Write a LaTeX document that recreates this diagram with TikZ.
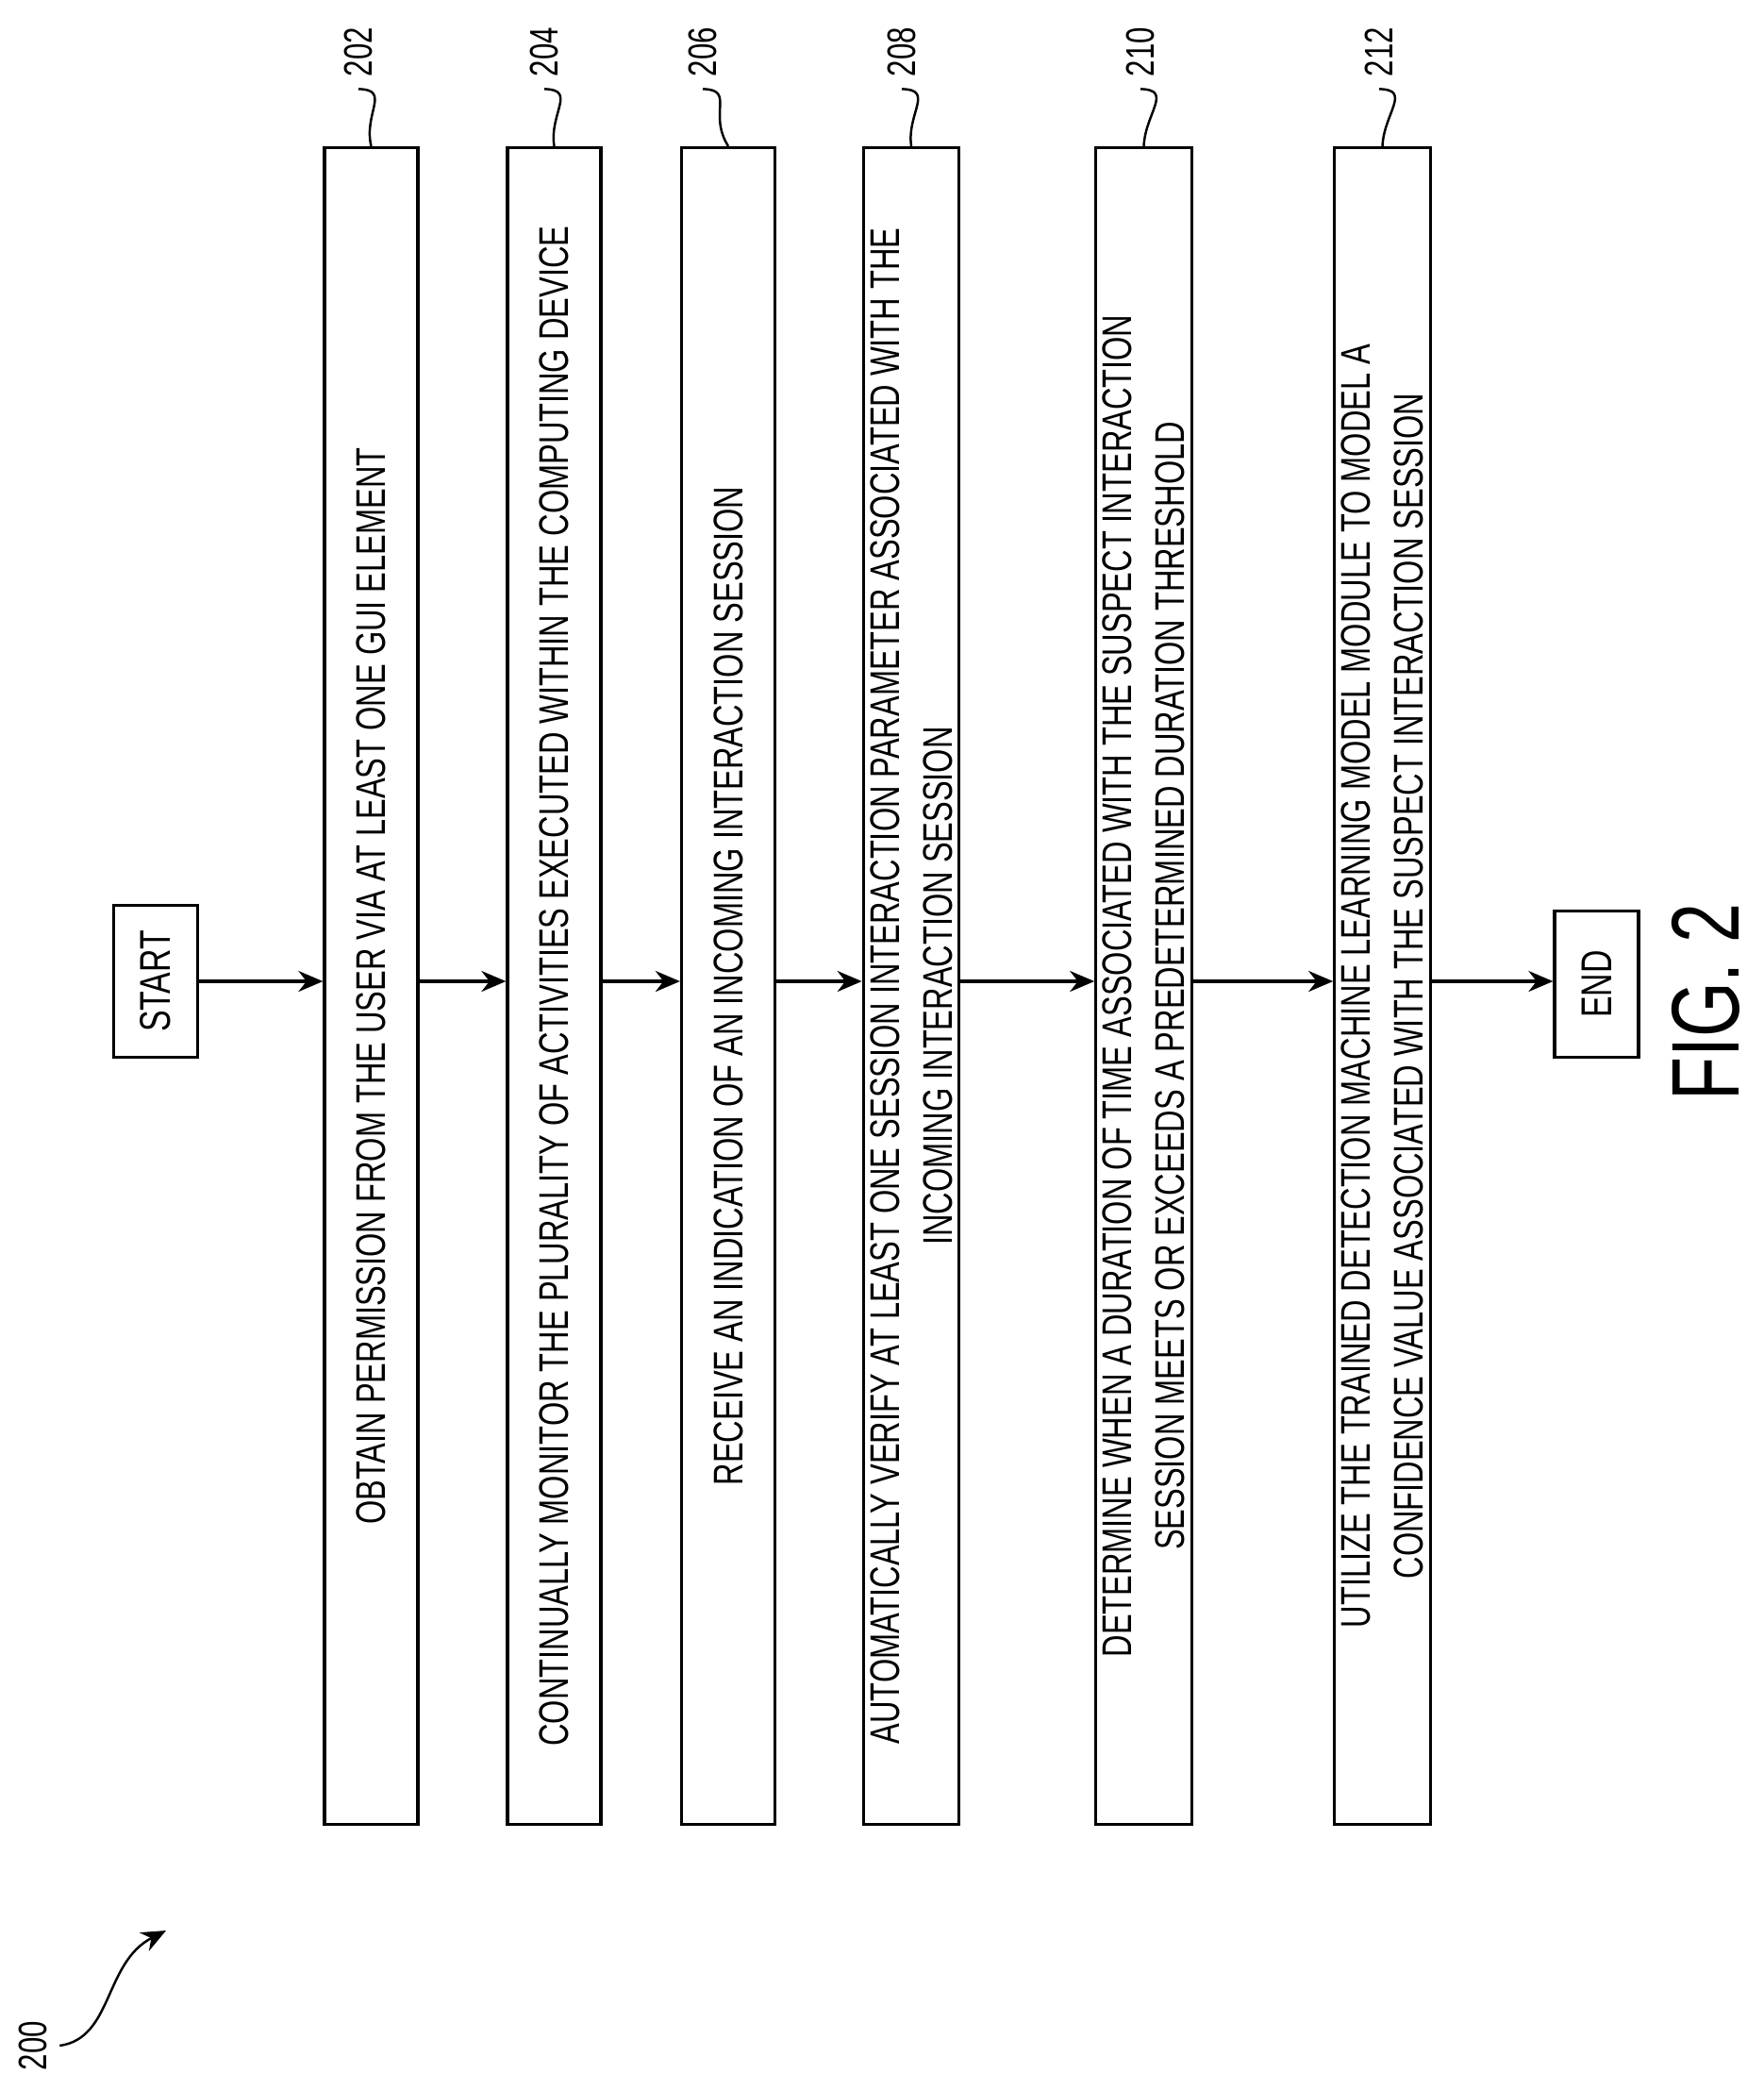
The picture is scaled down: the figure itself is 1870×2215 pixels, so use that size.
\documentclass[tikz,border=0pt]{standalone}
\usepackage{fontspec}
\setmainfont[FakeStretch=0.74]{Liberation Sans}
\usetikzlibrary{arrows.meta}

\begin{document}
\begin{tikzpicture}[x=0.01cm, y=-0.01cm, >={Stealth[length=2.6mm,width=2.2mm]}, line width=0.9pt]
    \tikzset{stepbox/.style={draw, rotate=90, minimum width=17.76cm, minimum height=0.99cm, align=center, inner sep=2pt, font=\fontsize{12.5}{16}\selectfont},
             termbox/.style={draw, rotate=90, minimum height=0.89cm, font=\fontsize{13}{16}\selectfont},
             reflbl/.style={rotate=90, font=\fontsize{12}{14}\selectfont}}
    \useasboundingbox (0,0) rectangle (1870,2215);

        % Boxes
        \node[termbox, minimum width=1.61cm] (start) at (165,1040) {START};
        \node[stepbox] (b202) at (393.5,1045) {OBTAIN PERMISSION FROM THE USER VIA AT LEAST ONE GUI ELEMENT};
        \node[stepbox] (b204) at (587.5,1045) {CONTINUALLY MONITOR THE PLURALITY OF ACTIVITIES EXECUTED WITHIN THE COMPUTING DEVICE};
        \node[stepbox] (b206) at (772,1045) {RECEIVE AN INDICATION OF AN INCOMING INTERACTION SESSION};
        \node[stepbox] (b208) at (966,1045) {AUTOMATICALLY VERIFY AT LEAST ONE SESSION INTERACTION PARAMETER ASSOCIATED WITH THE\\INCOMING INTERACTION SESSION};
        \node[stepbox] (b210) at (1212.5,1045) {DETERMINE WHEN A DURATION OF TIME ASSOCIATED WITH THE SUSPECT INTERACTION\\SESSION MEETS OR EXCEEDS A PREDETERMINED DURATION THRESHOLD};
        \node[stepbox] (b212) at (1465.5,1045) {UTILIZE THE TRAINED DETECTION MACHINE LEARNING MODEL MODULE TO MODEL A\\CONFIDENCE VALUE ASSOCIATED WITH THE SUSPECT INTERACTION SESSION};
        \node[termbox, minimum width=1.55cm] (end) at (1692.5,1043) {END};

        % Arrows
        \draw[->] (start.south) -- (start.south -| b202.north);
        \foreach \a/\b in {b202/b204, b204/b206, b206/b208, b208/b210, b210/b212, b212/end}
            \draw[->] (\a.south |- start.south) -- (\b.north |- start.south);

        % Reference labels
        \foreach \n/\x in {202/380, 204/577, 206/745, 208/956, 210/1209, 212/1462} {
            \node[reflbl] (l\n) at (\x,55) {\n};
            \draw[line width=0.7pt] (l\n.west) .. controls (\x+35,95) and (\x+5,120) .. (b\n.east);
        }

        \node[reflbl] (l200) at (35,2168) {200};
        \draw[->, line width=0.7pt] (l200.south) .. controls (120,2160) and (110,2080) .. (176,2046);

        \node[rotate=90, font=\fontsize{29}{32}\selectfont] (fig) at (1808,1062) {FIG. 2};
\end{tikzpicture}
\end{document}
